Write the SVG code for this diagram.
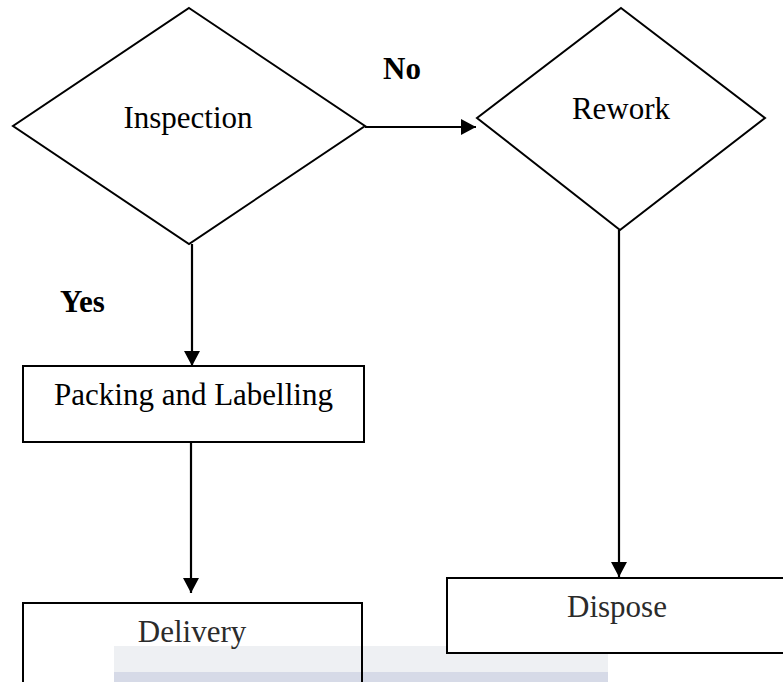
<svg xmlns="http://www.w3.org/2000/svg" width="783" height="682" viewBox="0 0 783 682">
<style>
.shape{fill:#ffffff;stroke:#000;stroke-width:2}
.lbl{font-family:"Liberation Serif","Times New Roman",serif;font-size:31px;fill:#000;text-anchor:middle}
.gray{fill:#2b2b2b}
.bold{font-weight:bold;text-anchor:start}
.conn{stroke:#000;stroke-width:2.2;fill:none}
</style>
<defs>
<marker id="arrow" markerUnits="userSpaceOnUse" markerWidth="16" markerHeight="16" viewBox="0 0 16 16" refX="15" refY="8" orient="auto">
<path d="M0,0 L15,8 L0,16 Z" fill="#000"/>
</marker>
</defs>
<rect width="783" height="682" fill="#ffffff"/>
<g id="band">
<rect x="114" y="646" width="494" height="26" fill="#eef0f3"/>
<rect x="114" y="672" width="494" height="10" fill="#d6dae7"/>
</g>
<g id="connectors">
<line class="conn" x1="365" y1="127" x2="476" y2="127" marker-end="url(#arrow)"/>
<line class="conn" x1="192" y1="244" x2="192" y2="366" marker-end="url(#arrow)"/>
<line class="conn" x1="191" y1="442" x2="191" y2="593" marker-end="url(#arrow)"/>
<line class="conn" x1="619" y1="230" x2="619" y2="577" marker-end="url(#arrow)"/>
</g>
<g id="inspection">
<polygon class="shape" points="189,8 365,126 189,244 13,126"/>
<text class="lbl" x="188" y="128">Inspection</text>
</g>
<g id="rework">
<polygon class="shape" points="621,8 765,118 620,230 477,118"/>
<text class="lbl" x="621" y="119">Rework</text>
</g>
<g id="packing">
<rect class="shape" x="23" y="366" width="341" height="76"/>
<text class="lbl" x="193.5" y="405">Packing and Labelling</text>
</g>
<g id="delivery">
<path d="M23,682 V603 H362 V682" fill="none" stroke="#000" stroke-width="2"/>
<text class="lbl gray" x="192" y="642">Delivery</text>
</g>
<g id="dispose">
<path d="M784,578 H447 V653 H784" fill="#fff" stroke="#000" stroke-width="2"/>
<text class="lbl gray" x="617" y="617">Dispose</text>
</g>
<g id="labels">
<text class="lbl bold" x="383" y="79">No</text>
<text class="lbl bold" x="60" y="312">Yes</text>
</g>
</svg>
